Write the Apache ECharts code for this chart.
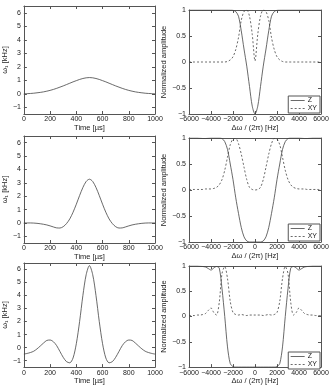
<!DOCTYPE html>
<html>
<head>
<meta charset="utf-8">
<script src="https://cdn.jsdelivr.net/npm/echarts@6/dist/echarts.min.js"></script>
<style>
  html, body { margin: 0; padding: 0; background: #fff; }
  #chart { width: 332px; height: 386px; }
</style>
</head>
<body>
<div id="chart"></div>
<script>
// time axis of the pulses (µs)
const timeUs = [0, 25, 50, 75, 100, 125, 150, 175, 200, 225, 250, 275, 300, 325, 350, 375, 400, 425, 450, 475,
  500, 525, 550, 575, 600, 625, 650, 675, 700, 725, 750, 775, 800, 825, 850, 875, 900, 925, 950, 975, 1000]

// pulse amplitudes w1 (kHz)
const pulse1 = [0, 0.01, 0.02, 0.04, 0.07, 0.1, 0.14, 0.19, 0.25, 0.32, 0.4, 0.49, 0.58, 0.68, 0.78, 0.88, 0.97, 1.06, 1.13, 1.18,
  1.2, 1.18, 1.13, 1.06, 0.97, 0.88, 0.78, 0.68, 0.58, 0.49, 0.4, 0.32, 0.25, 0.19, 0.14, 0.1, 0.07, 0.04, 0.02, 0.01, 0]
const pulse2 = [0, 0, 0, -0.01, -0.03, -0.06, -0.1, -0.15, -0.22, -0.3, -0.37, -0.38, -0.28, -0.05, 0.3, 0.8, 1.4, 2.05, 2.65, 3.1,
  3.27, 3.1, 2.65, 2.05, 1.4, 0.8, 0.3, -0.05, -0.28, -0.38, -0.37, -0.3, -0.22, -0.15, -0.1, -0.06, -0.03, -0.01, 0, 0, 0]
const pulse3 = [-0.5, -0.45, -0.38, -0.28, -0.1, 0.12, 0.35, 0.55, 0.58, 0.45, 0.15, -0.3, -0.75, -1.08, -1.17, -0.8, 0.3, 2.0, 4.0, 5.6,
  6.3, 5.6, 4.0, 2.0, 0.3, -0.8, -1.17, -1.08, -0.75, -0.3, 0.15, 0.45, 0.58, 0.55, 0.35, 0.12, -0.1, -0.28, -0.38, -0.45, -0.5]

// frequency offset (Hz)
const freqHz = [-6000, -5750, -5500, -5250, -5000, -4750, -4500, -4250, -4000, -3750, -3500, -3250, -3000, -2750, -2500, -2250,
  -2000, -1750, -1500, -1250, -1000, -750, -500, -250, 0, 250, 500, 750, 1000, 1250, 1500, 1750, 2000,
  2250, 2500, 2750, 3000, 3250, 3500, 3750, 4000, 4250, 4500, 4750, 5000, 5250, 5500, 5750, 6000]

// normalized magnetization profiles
const z1 = [1, 1, 1, 1, 1, 1, 1, 1, 1, 1, 1, 1, 1, 1, 1, 0.999, 0.995, 0.97, 0.88, 0.6, 0.25, -0.08, -0.47, -0.85,
  -1, -0.85, -0.47, -0.08, 0.25, 0.6, 0.88, 0.97, 0.995, 0.999, 1, 1, 1, 1, 1, 1, 1, 1, 1, 1, 1, 1, 1, 1, 1]
const xy1 = [0, 0, 0, 0, 0, 0, 0, 0, 0, 0, 0, 0, 0, 0, 0.01, 0.04, 0.1, 0.24, 0.47, 0.8, 0.97, 1.0, 0.88, 0.53,
  0.02, 0.53, 0.88, 1.0, 0.97, 0.8, 0.47, 0.24, 0.1, 0.04, 0.01, 0, 0, 0, 0, 0, 0, 0, 0, 0, 0, 0, 0, 0, 0]
const z2 = [1, 1, 1, 1, 0.995, 0.99, 0.99, 0.995, 1, 1, 1, 1, 0.99, 0.93, 0.78, 0.5, 0.2, -0.15, -0.45, -0.72, -0.9, -0.98, -1, -1,
  -1, -1, -1, -0.98, -0.9, -0.72, -0.45, -0.15, 0.2, 0.5, 0.78, 0.93, 0.99, 1, 1, 1, 1, 0.995, 0.99, 0.99, 0.995, 1, 1, 1, 1]
const xy2 = [0.01, 0.01, 0.01, 0.01, 0.01, 0.01, 0.02, 0.02, 0.02, 0.03, 0.05, 0.1, 0.2, 0.38, 0.63, 0.87, 0.98, 0.99, 0.89, 0.69, 0.44, 0.2, 0.05, 0.01,
  0, 0.01, 0.05, 0.2, 0.44, 0.69, 0.89, 0.99, 0.98, 0.87, 0.63, 0.38, 0.2, 0.1, 0.05, 0.03, 0.02, 0.02, 0.02, 0.01, 0.01, 0.01, 0.01, 0.01, 0.01]
const z3 = [1, 1, 1, 1, 0.995, 0.99, 0.98, 0.95, 0.92, 0.96, 0.99, 0.96, 0.55, 0, -0.6, -0.93, -0.99, -1, -1, -1, -1, -1, -1, -1,
  -1, -1, -1, -1, -1, -1, -1, -1, -0.99, -0.93, -0.6, 0, 0.55, 0.96, 0.99, 0.96, 0.92, 0.95, 0.98, 0.99, 0.995, 1, 1, 1, 1]
const xy3 = [0.02, 0.02, 0.02, 0.03, 0.03, 0.04, 0.06, 0.12, 0.17, 0.08, 0.03, 0.28, 0.85, 0.99, 0.75, 0.3, 0.08, 0.04, 0.03, 0.04, 0.03, 0.02, 0.03, 0.03,
  0.03, 0.03, 0.03, 0.02, 0.03, 0.04, 0.03, 0.04, 0.08, 0.3, 0.75, 0.99, 0.85, 0.28, 0.03, 0.08, 0.17, 0.12, 0.06, 0.04, 0.03, 0.03, 0.02, 0.02, 0.02]

// tick labels
const pulseTicks = [-1, 0, 1, 2, 3, 4, 5, 6]

const FONT = 'Liberation Sans, Arial, sans-serif'
const TEXT = '#222'
const AXIS = '#555'
const LINE = '#444'

const grids = [
  { left: 19, top: 6, width: 136, height: 108 },
  { left: 19, top: 136, width: 136, height: 107 },
  { left: 19, top: 263, width: 136, height: 106 },
  { left: 189, top: 10, width: 132, height: 104 },
  { left: 189, top: 138, width: 132, height: 104 },
  { left: 189, top: 266, width: 132, height: 104 }
]

const minus = v => String(v).replace('-', '\u2212')

const xAxis = []
const yAxis = []
grids.forEach((g, i) => {
  const isPulse = i < 3
  const xBase = isPulse
    ? { min: 0, max: 1000, interval: 200 }
    : { min: -6000, max: 6000, interval: 2000 }
  const yBase = isPulse
    ? { min: -1.5, max: 6.5 }
    : { min: -1, max: 1, interval: 0.5 }
  const common = {
    type: 'value',
    gridIndex: i,
    splitLine: { show: false },
    axisLine: { show: true, onZero: false, lineStyle: { color: AXIS, width: 1 } },
    axisTick: { show: true, inside: true, length: 3, lineStyle: { color: AXIS } }
  }
  xAxis.push(Object.assign({}, common, xBase, {
    position: 'bottom',
    name: isPulse ? 'Time [µs]' : 'Δω / (2π) [Hz]',
    nameLocation: 'middle',
    nameGap: 9,
    nameTextStyle: { color: TEXT, fontSize: 7.5, fontFamily: FONT },
    axisLabel: { color: TEXT, fontSize: 7, fontFamily: FONT, margin: 2, formatter: minus }
  }))
  xAxis.push(Object.assign({}, common, xBase, {
    position: 'top',
    axisLabel: { show: false }
  }))
  const yLabel = { color: TEXT, fontSize: 7, fontFamily: FONT, margin: 3, formatter: minus }
  const yTick = { show: true, inside: true, length: 3, lineStyle: { color: AXIS } }
  if (isPulse) {
    yLabel.customValues = pulseTicks
    yTick.customValues = pulseTicks
  }
  yAxis.push(Object.assign({}, common, yBase, {
    position: 'left',
    name: isPulse ? 'ω₁ [kHz]' : 'Normalized amplitude',
    nameLocation: 'middle',
    nameGap: isPulse ? 10 : 13,
    nameTextStyle: { color: TEXT, fontSize: 7.5, fontFamily: FONT },
    axisLabel: yLabel,
    axisTick: yTick
  }))
  yAxis.push(Object.assign({}, common, yBase, {
    position: 'right',
    axisLabel: { show: false },
    axisTick: Object.assign({}, yTick)
  }))
})

const lineSeries = (name, xs, ys, panel, dashed) => ({
  name: name,
  type: 'line',
  xAxisIndex: panel * 2,
  yAxisIndex: panel * 2,
  symbol: 'none',
  smooth: 0.3,
  silent: true,
  lineStyle: { color: LINE, width: 0.8, type: dashed ? [2, 2] : 'solid' },
  itemStyle: { color: LINE },
  data: xs.map((x, k) => [x, ys[k]])
})

const series = [
  lineSeries('w1', timeUs, pulse1, 0, false),
  lineSeries('w2', timeUs, pulse2, 1, false),
  lineSeries('w3', timeUs, pulse3, 2, false),
  lineSeries('Z', freqHz, z1, 3, false),
  lineSeries('XY', freqHz, xy1, 3, true),
  lineSeries('Z', freqHz, z2, 4, false),
  lineSeries('XY', freqHz, xy2, 4, true),
  lineSeries('Z', freqHz, z3, 5, false),
  lineSeries('XY', freqHz, xy3, 5, true)
]

const legend = [96, 224, 352].map(top => ({
  data: ['Z', 'XY'],
  orient: 'vertical',
  right: 12,
  top: top,
  itemWidth: 14,
  itemHeight: 6,
  itemGap: 1,
  padding: [1, 3, 1, 2],
  backgroundColor: '#fff',
  borderColor: AXIS,
  borderWidth: 1,
  selectedMode: false,
  itemStyle: { opacity: 0 },
  lineStyle: { width: 0.8 },
  textStyle: { color: TEXT, fontSize: 7, fontFamily: FONT, padding: [0, 0, 0, -2] }
}))

const chart = echarts.init(document.getElementById('chart'), null, { renderer: 'canvas' })
chart.setOption({
  animation: false,
  backgroundColor: '#fff',
  grid: grids.map(g => Object.assign({ show: false }, g)),
  xAxis: xAxis,
  yAxis: yAxis,
  legend: legend,
  series: series
})
</script>
</body>
</html>
